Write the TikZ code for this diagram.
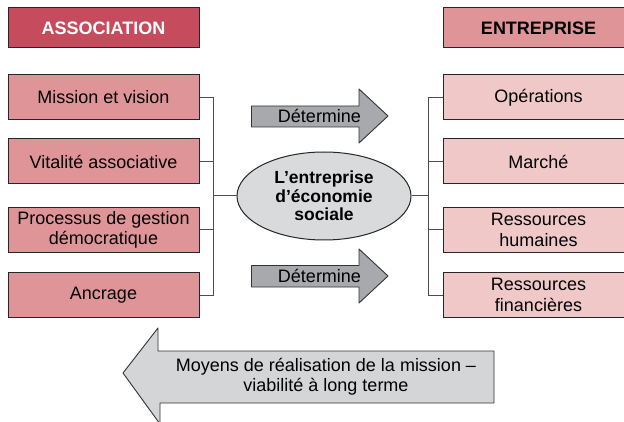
\documentclass[tikz,border=0pt]{standalone}
\usepackage{fontspec}
\setmainfont{Liberation Sans}
\usetikzlibrary{shapes.geometric}
\definecolor{assocred}{HTML}{C64B5C}
\definecolor{boxpink}{HTML}{DF9598}
\definecolor{lightpink}{HTML}{F0C8C8}
\definecolor{ellgray}{HTML}{D9DADB}
\definecolor{arrgray}{HTML}{A7A9AC}
\definecolor{bigarr}{HTML}{D4D5D7}
\definecolor{linegray}{HTML}{4D4D4D}
\begin{document}
\begin{tikzpicture}[x=1pt,y=-1pt,
  box/.style={draw=black!85, line width=1pt, minimum width=191pt, minimum height=45pt,
    inner sep=0pt, align=center, font=\fontsize{18}{20.5}\selectfont},
  leftbox/.style={box, fill=boxpink},
  rightbox/.style={box, fill=lightpink},
  titlebox/.style={box, minimum height=40pt, font=\fontsize{18}{20}\selectfont\bfseries},
  conn/.style={draw=linegray, line width=1pt},
  arrowshape/.style={draw=black!80, line width=0.9pt, line join=round},
  lbl/.style={inner sep=0pt, align=center, font=\fontsize{18}{20}\selectfont}
]
\useasboundingbox (0,0) rectangle (624,422);

% titles
\node[titlebox, fill=assocred, text=white] (assoc) at (103.5,28) {ASSOCIATION};
\node[titlebox, fill=boxpink] (entr) at (538.5,28) {ENTREPRISE};

% left boxes
\node[leftbox] (mis) at (103.5,97.5) {Mission et vision};
\node[leftbox] (vit) at (103.5,161.5) {Vitalité associative};
\node[leftbox] (proc) at (103.5,230) {Processus de gestion\\démocratique};
\node[leftbox] (anc) at (103.5,295) {Ancrage};

% right boxes
\node[rightbox] (ope) at (538.5,97.5) {Opérations};
\node[rightbox] (mar) at (538.5,161.5) {Marché};
\node[rightbox] (rh) at (538.5,230) {Ressources\\humaines};
\node[rightbox] (rf) at (538.5,295) {Ressources\\financières};

% ellipse
\node[ellipse, draw=black!85, line width=1pt, fill=ellgray, minimum width=174pt,
  minimum height=88pt, inner sep=0pt, align=center,
  font=\fontsize{17.5}{18.5}\selectfont\bfseries] (ell) at (324,196)
  {L’entreprise\\d’économie\\sociale};

% buses
\coordinate (lbus) at (213,0);
\coordinate (rbus) at (428,0);
\draw[conn] (mis.east) -- (mis.east -| lbus) -- (anc.east -| lbus) -- (anc.east);
\draw[conn] (vit.east) -- (vit.east -| lbus);
\draw[conn] (proc.east) -- (proc.east -| lbus);
\draw[conn] (ell.west) -- (ell.west -| lbus);
\draw[conn] (ope.west) -- (ope.west -| rbus) -- (rf.west -| rbus) -- (rf.west);
\draw[conn] (mar.west) -- (mar.west -| rbus);
\draw[conn] (rh.west) -- (rh.west -| rbus);
\draw[conn] (ell.east) -- (ell.east -| rbus);

% small arrows
\draw[arrowshape, fill=arrgray] (251.5,106) -- (359,106) -- (359,89) -- (388,116)
  -- (359,143) -- (359,127) -- (251.5,127) -- cycle;
\node[lbl] (det1) at (319.5,116) {Détermine};
\draw[arrowshape, fill=arrgray] (251.5,265.5) -- (359,265.5) -- (359,249) -- (388,276)
  -- (359,303) -- (359,287) -- (251.5,287) -- cycle;
\node[lbl] (det2) at (319.5,276) {Détermine};

% big arrow
\draw[arrowshape, fill=bigarr] (494,351) -- (158,351) -- (158,328) -- (123,373)
  -- (160,424) -- (160,403) -- (494,403) -- cycle;
\node[lbl, font=\fontsize{18}{20}\selectfont] (moy) at (326,377)
  {Moyens de réalisation de la mission –\\viabilité à long terme};
\end{tikzpicture}
\end{document}
